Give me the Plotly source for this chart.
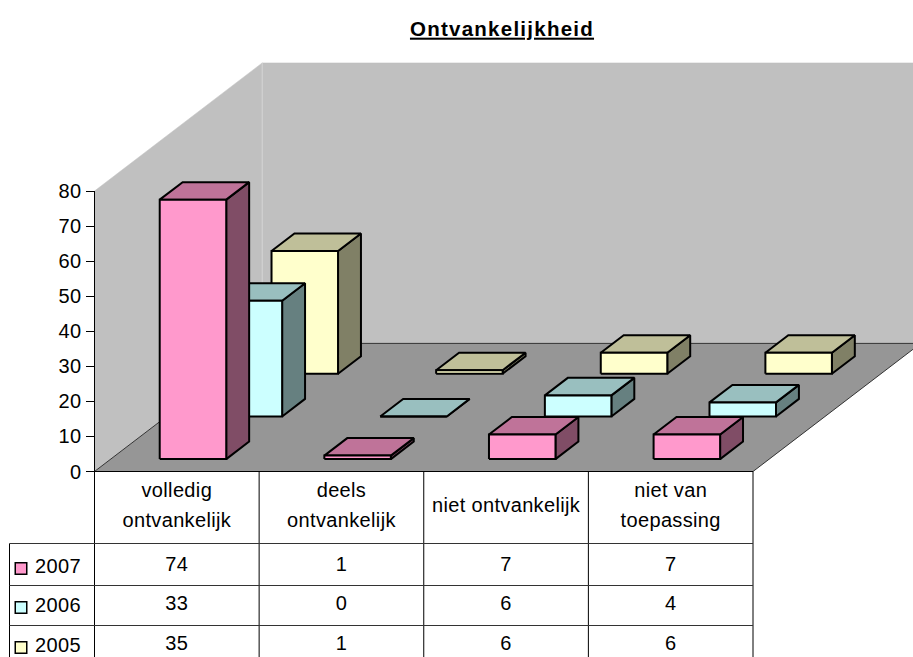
import plotly.graph_objects as go

TITLE = "Ontvankelijkheid"
CATEGORY_LINES = [["volledig", "ontvankelijk"], ["deels", "ontvankelijk"],
                  ["niet ontvankelijk"], ["niet van", "toepassing"]]
SERIES_NAMES = ["2007", "2006", "2005"]
VALUES_2007 = [74, 1, 7, 7]
VALUES_2006 = [33, 0, 6, 4]
VALUES_2005 = [35, 1, 6, 6]
Y_TICKS = [0, 10, 20, 30, 40, 50, 60, 70, 80]
SERIES_VALUES = [VALUES_2007, VALUES_2006, VALUES_2005]

FRONT = ["#FF99CC", "#CCFFFF", "#FFFFCC"]
TOP = ["#BF7399", "#99BFBF", "#BFBF99"]
SIDE = ["#804D66", "#668080", "#808066"]
WALL = "#C0C0C0"
FLOOR = "#969696"

W, H = 913, 657
X0, X1 = 94.5, 753.0
Y0, Y80 = 471.5, 191.0
CAT_PX = (X1 - X0) / 4
VAL_PX = (Y0 - Y80) / 80
DX = 55.9 / CAT_PX   # one depth row, in category units
DY = 42.7 / VAL_PX   # one depth row, in value units
ROWS = 3
GAP_C, BAR_C = 0.2977, 0.404
GAP_D, BAR_D = 0.29, 0.41
FONT = "Liberation Sans, Arial, sans-serif"
FS = 20
LS = 0.35
EDGE = 2


def spaced(t, ls=LS):
    return f'<span style="letter-spacing:{ls}px">{t}</span>'


def proj(c, d, v):
    return c + d * DX, v + d * DY


def px_y(y):
    return (Y0 - y) / VAL_PX


def px_x(x):
    return (x - X0) / CAT_PX


def poly(points):
    xs, ys = zip(*[proj(*p) for p in points + points[:1]])
    return list(xs) + [None], list(ys) + [None]


def area(polys, fill, line, width, name):
    xs, ys = [], []
    for p in polys:
        a, b = poly(p)
        xs += a
        ys += b
    return go.Scatter(x=xs, y=ys, mode="lines", fill="toself", fillcolor=fill, name=name,
                      line=dict(color=line, width=width), hoverinfo="skip", showlegend=False)


def segment(pts, color, width):
    xs, ys = zip(*[proj(*p) for p in pts])
    return go.Scatter(x=xs, y=ys, mode="lines", line=dict(color=color, width=width),
                      hoverinfo="skip", showlegend=False)


fig = go.Figure()
# walls and floor
fig.add_trace(area([[(0, 0, 0), (0, ROWS, 0), (0, ROWS, 80), (0, 0, 80)]], WALL, WALL, 0.5, "left wall"))
fig.add_trace(area([[(0, ROWS, 0), (4, ROWS, 0), (4, ROWS, 80), (0, ROWS, 80)]], WALL, WALL, 0.5, "back wall"))
fig.add_trace(segment([(0, ROWS, 0), (0, ROWS, 80)], "#D4D4D4", 1))
fig.add_trace(area([[(0, 0, 0), (4, 0, 0), (4, ROWS, 0), (0, ROWS, 0)]], FLOOR, "#333333", 1, "floor"))

# bars, back row first
for s in [2, 1, 0]:
    d0, d1 = s + GAP_D, s + GAP_D + BAR_D
    sides, tops, fronts = [], [], []
    for c, v in enumerate(SERIES_VALUES[s]):
        c0, c1 = c + GAP_C, c + GAP_C + BAR_C
        sides.append([(c1, d0, 0), (c1, d1, 0), (c1, d1, v), (c1, d0, v)])
        tops.append([(c0, d0, v), (c1, d0, v), (c1, d1, v), (c0, d1, v)])
        fronts.append([(c0, d0, 0), (c1, d0, 0), (c1, d0, v), (c0, d0, v)])
    fig.add_trace(area(sides, SIDE[s], "#000000", EDGE, SERIES_NAMES[s] + " side"))
    fig.add_trace(area(tops, TOP[s], "#000000", EDGE, SERIES_NAMES[s] + " top"))
    fig.add_trace(area(fronts, FRONT[s], "#000000", EDGE, SERIES_NAMES[s]))

# data table text
tx, ty, tt = [], [], []
for c, lines in enumerate(CATEGORY_LINES):
    if len(lines) == 2:
        ys = [491.5, 521.5]
    else:
        ys = [506.5]
    for line, y in zip(lines, ys):
        tx.append(c + 0.5)
        ty.append(px_y(y))
        tt.append(spaced(line))
ROW_Y = [565.5, 604.5, 644.5]
for s, vals in enumerate(SERIES_VALUES):
    for c, v in enumerate(vals):
        tx.append(c + 0.5)
        ty.append(px_y(ROW_Y[s]))
        tt.append(spaced(v))
fig.add_trace(go.Scatter(x=tx, y=ty, mode="text", text=tt, textposition="middle center",
                         textfont=dict(family=FONT, size=FS, color="#000000"),
                         hoverinfo="skip", showlegend=False))

# legend keys inside the table
fig.add_trace(go.Scatter(x=[px_x(21)] * 3, y=[px_y(y + 3) for y in ROW_Y], mode="markers",
                         marker=dict(symbol="square", size=11.5, color=FRONT,
                                     line=dict(color="#000000", width=1.5)),
                         hoverinfo="skip", showlegend=False))
fig.add_trace(go.Scatter(x=[px_x(35)] * 3, y=[px_y(y + 2) for y in ROW_Y], mode="text",
                         text=[spaced(n) for n in SERIES_NAMES], textposition="middle right",
                         textfont=dict(family=FONT, size=FS, color="#000000"),
                         hoverinfo="skip", showlegend=False))

# table rules
shapes = []


def rule(x0, y0, x1, y1, color="#000000"):
    shapes.append(dict(type="line", xref="x", yref="y", x0=px_x(x0), x1=px_x(x1),
                       y0=px_y(y0), y1=px_y(y1), line=dict(color=color, width=1), layer="above"))


rule(94.5, 471.5, 753, 471.5)
for i in range(5):
    rule(X0 + i * CAT_PX, 471.5, X0 + i * CAT_PX, 657)
rule(9.5, 543.5, 9.5, 657)
for y in [543.5, 585.5, 625.5]:
    rule(9.5, y, 753, y, "#333333")

fig.update_layout(
    width=W, height=H, autosize=False, margin=dict(l=0, r=0, t=0, b=0),
    paper_bgcolor="#FFFFFF", plot_bgcolor="rgba(0,0,0,0)", showlegend=False,
    font=dict(family=FONT, size=FS, color="#000000"),
    title=dict(text=f"<b><u>{spaced(TITLE, 1.25)}</u></b>", x=502 / W, xanchor="center",
               y=1 - 28.5 / H, yanchor="middle", font=dict(family=FONT, size=20.5, color="#000000")),
    shapes=shapes,
    xaxis=dict(domain=[0, 1], range=[px_x(0), px_x(W)], visible=False, fixedrange=True),
    yaxis=dict(domain=[0, 1], range=[px_y(H), px_y(0)], visible=False, fixedrange=True),
    xaxis2=dict(domain=[X0 / W, X1 / W], range=[0, 4], anchor="y2", visible=False, fixedrange=True),
    yaxis2=dict(domain=[1 - Y0 / H, 1 - Y80 / H], range=[0, 80], anchor="x2", automargin=False,
                tickvals=Y_TICKS, ticktext=[spaced(t) for t in Y_TICKS], ticks="outside", ticklen=8, tickwidth=1,
                tickcolor="#000000", showline=True, linecolor="#000000", linewidth=1,
                showgrid=False, zeroline=False, fixedrange=True,
                tickfont=dict(family=FONT, size=FS, color="#000000")),
)
fig.add_trace(go.Scatter(x=[0.5], y=[0], xaxis="x2", yaxis="y2", mode="markers",
                         marker=dict(opacity=0), hoverinfo="skip", showlegend=False))
fig.write_html("out.html", config=dict(displayModeBar=False),
               post_script="document.body.style.margin='0';document.body.style.overflow='hidden';")
